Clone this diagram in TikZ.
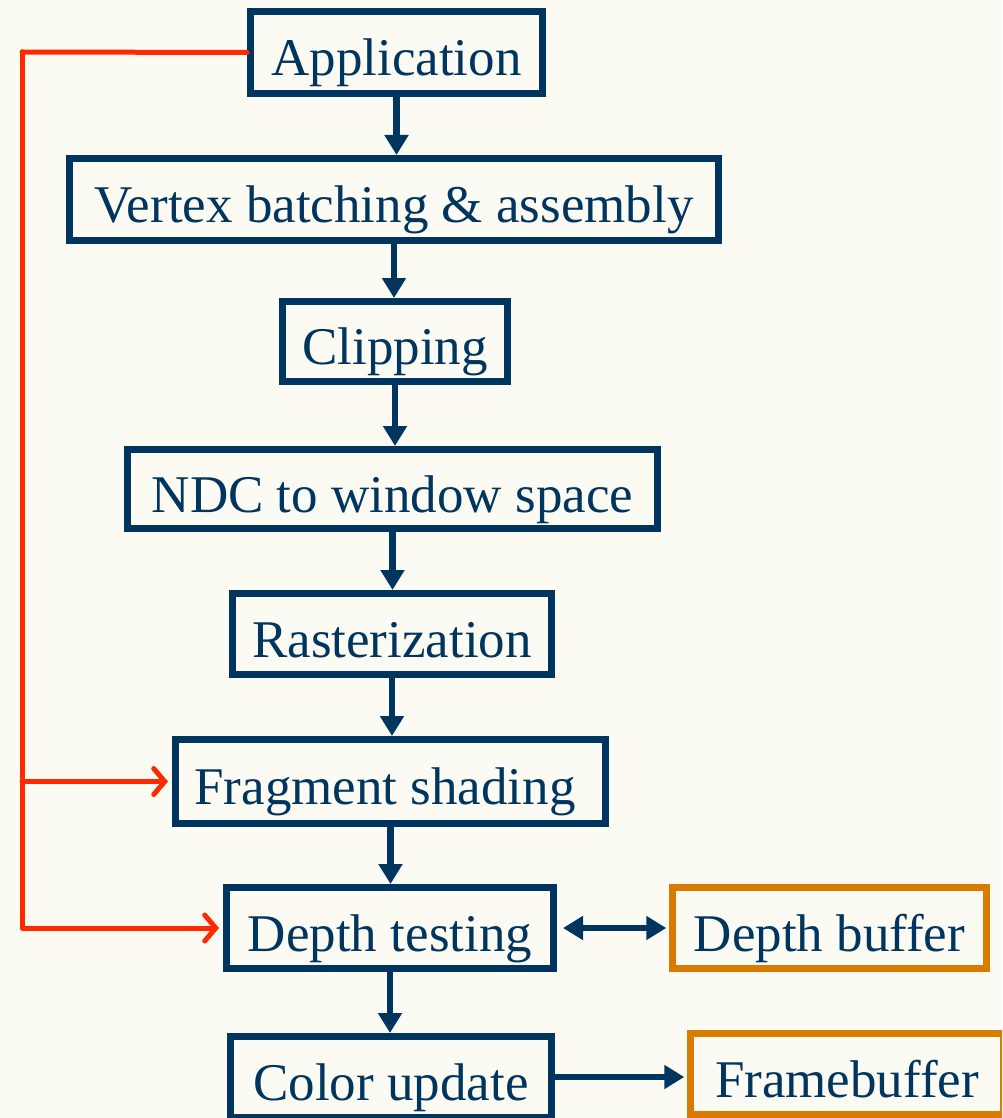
\documentclass[tikz,border=0pt]{standalone}
\usepackage{fontspec}
\setmainfont{Liberation Serif}
\usetikzlibrary{arrows.meta}
\definecolor{navy}{HTML}{00355F}
\definecolor{orng}{HTML}{D97B00}
\definecolor{redl}{HTML}{FF2A00}
\definecolor{bgc}{HTML}{FBFBF4}
\tikzset{
  stage/.style={draw=navy, line width=7pt, text=navy, inner sep=0pt, text height=46pt, text depth=0pt, font=\fontsize{53}{62}\selectfont, fill=bgc},
  store/.style={stage, draw=orng, line width=6.5pt},
  flow/.style={draw=navy, line width=6.5pt, -{Triangle[length=20pt,width=23pt]}},
  both/.style={draw=navy, line width=6.5pt, {Triangle[length=20pt,width=23pt]}-{Triangle[length=20pt,width=23pt]}},
  feed/.style={draw=redl, line width=5pt, line cap=round, line join=round},
  feedarrow/.style={feed, -{Straight Barb[length=11pt,width=26pt,line cap=round]}}
}
\begin{document}
\begin{tikzpicture}[x=1pt,y=-1pt]
\fill[bgc] (0,0) rectangle (1002,1118);
\useasboundingbox (0,0) rectangle (1002,1118);
\clip (0,0) rectangle (1002,1118);
\node[stage, minimum width=292pt, minimum height=82pt] (app) at (396.5,52.5) {Application};
\node[stage, minimum width=649pt, minimum height=82pt] (vb) at (394,199.5) {Vertex batching \& assembly};
\node[stage, minimum width=225pt, minimum height=80pt] (clip) at (395,341.5) {Clipping};
\node[stage, minimum width=530pt, minimum height=79pt] (ndc) at (392.5,489) {NDC to window space};
\node[stage, minimum width=319pt, minimum height=81pt] (ras) at (392,634) {Rasterization};
\node[stage, minimum width=430pt, minimum height=84pt] (frag) at (390.5,781.5) {Fragment shading\hspace*{11pt}};
\node[stage, minimum width=327pt, minimum height=81pt] (dt) at (390,928) {Depth testing};
\node[store, minimum width=314pt, minimum height=81pt] (db) at (829.5,928) {Depth buffer};
\node[stage, minimum width=321pt, minimum height=81pt] (cu) at (391,1077) {Color update};
\node[store, minimum width=313pt, minimum height=81pt] (fb) at (847,1074) {Framebuffer};
\coordinate (rx) at (22,52);
\draw[flow] (app.south) -- (app.south |- vb.north);
\draw[flow] (vb.south) -- (vb.south |- clip.north);
\draw[flow] (clip.south) -- (clip.south |- ndc.north);
\draw[flow] (ndc.south) -- (ndc.south |- ras.north);
\draw[flow] (ras.south) -- (ras.south |- frag.north);
\draw[flow] (frag.south) -- (frag.south |- dt.north);
\draw[flow] (dt.south) -- (dt.south |- cu.north);
\draw[both] ([xshift=6pt]dt.east) -- ([xshift=-3pt]db.west);
\draw[flow] (cu.east) -- ([xshift=-3pt]fb.west |- cu.east);
\draw[feed] (app.west) -- (rx);
\draw[feedarrow] (rx) |- ([xshift=-4pt]dt.west);
\draw[feedarrow] (rx |- frag.west) -- ([xshift=-4pt]frag.west);
\end{tikzpicture}
\end{document}
